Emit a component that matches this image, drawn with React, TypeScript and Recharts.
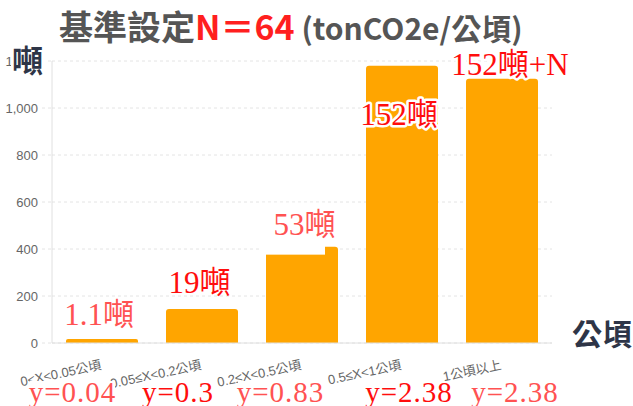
import React from 'react';
import { ComposedChart, Bar, Line, XAxis, YAxis, CartesianGrid, LabelList } from 'recharts';

const categories = ['0<X<0.05公頃', '0.05≤X<0.2公頃', '0.2≤X<0.5公頃', '0.5≤X<1公頃', '1公頃以上'];
const barValues = [17, 145, 410, 1180, 1125];
const barLabels = ['1.1噸', '19噸', '53噸', '152噸', '152噸+N'];
const yLabels = ['y=0.04', 'y=0.3', 'y=0.83', 'y=2.38', 'y=2.38'];
const yTicks = [0, 200, 400, 600, 800, 1000, 1200];

const data = categories.map((cat, i) => ({ cat, value: barValues[i], label: barLabels[i] }));

const RED = '#ff0d0d';
const PINK = '#ff5252';
const SERIF = "'Liberation Serif', 'Noto Sans CJK TC', serif";
const SANS = "'Liberation Sans', Arial, 'Noto Sans CJK TC', sans-serif";
const CJK = "'Noto Sans CJK TC', sans-serif";

const barLabelStyle = [
  { color: PINK, dx: -3, dy: -14, cover: false, glow: false },
  { color: RED, dx: -2.5, dy: -16, cover: false, glow: false },
  { color: PINK, dx: 2.5, dy: -12, cover: true, glow: false },
  { color: RED, dx: -3, dy: 59, cover: false, glow: true },
  { color: RED, dx: 8, dy: -4, cover: false, glow: true },
];

const yLabelStyle = [
  { color: PINK, dx: -29.5 },
  { color: RED, dx: -24 },
  { color: PINK, dx: -21.5 },
  { color: RED, dx: 7 },
  { color: PINK, dx: 13 },
];

const CatTick = (props: any) => {
  const { x, y, payload } = props;
  const ax = x;
  const ay = y + 26;
  return (
    <text x={ax} y={ay} transform={`rotate(-12, ${ax}, ${ay})`} textAnchor="end" fill="#666" fontSize={13} fontFamily={SANS}>
      {payload.value}
    </text>
  );
};

const YLabTick = (props: any) => {
  const { x, y, index } = props;
  const s = yLabelStyle[index];
  const txt = yLabels[index];
  const cx = x + s.dx;
  const by = y + 29;
  const w = txt.length * 14.5;
  return (
    <g>
      <rect x={cx - w / 2 + 1} y={by - 21} width={w - 2} height={30} fill="#fff" />
      <text x={cx} y={by} textAnchor="middle" fill={s.color} fontSize={29} fontFamily={SERIF} letterSpacing={1}>
        {txt}
      </text>
    </g>
  );
};

const renderBarLabel = (props: any) => {
  const vb = props.viewBox && props.viewBox.width !== undefined ? props.viewBox : props;
  const { x, y, width } = vb;
  const index = props.index;
  const s = barLabelStyle[index];
  const cx = x + width / 2 + s.dx;
  const by = y + s.dy;
  return (
    <g>
      {s.cover && <rect x={x - 4} y={by - 32} width={width - 9} height={y + 8 - (by - 32)} fill="#fff" />}
      <text
        x={cx}
        y={by}
        textAnchor="middle"
        fontSize={31}
        fontFamily={SERIF}
        fill={s.color}
        stroke={s.glow ? '#fff' : 'none'}
        strokeWidth={s.glow ? 5 : 0}
        strokeLinejoin="round"
        paintOrder="stroke"
      >
        {props.value}
      </text>
    </g>
  );
};

export default function App() {
  return (
    <div style={{ position: 'absolute', left: 0, top: 0, width: 633, height: 406, background: '#fff' }}>
      <ComposedChart width={633} height={406} data={data} margin={{ top: 61, right: 81, left: 0, bottom: 0 }} barCategoryGap="14%">
        <CartesianGrid vertical={false} stroke="#e4e4e4" strokeDasharray="3 3" />
        <XAxis
          xAxisId="main"
          dataKey="cat"
          interval={0}
          height={30}
          tickSize={0}
          tickMargin={0}
          tickLine={false}
          axisLine={{ stroke: '#e0e0e0' }}
          tick={<CatTick />}
        />
        <XAxis
          xAxisId="ylab"
          dataKey="cat"
          interval={0}
          height={33}
          tickSize={0}
          tickMargin={0}
          tickLine={false}
          axisLine={false}
          tick={<YLabTick />}
        />
        <YAxis
          width={52}
          domain={[0, 1200]}
          ticks={yTicks}
          interval={0}
          tickSize={10}
          tickMargin={4}
          tickLine={{ stroke: '#e4e4e4', strokeDasharray: '3 3' }}
          axisLine={{ stroke: '#e0e0e0' }}
          tick={{ fill: '#666', fontSize: 13, fontFamily: SANS }}
          tickFormatter={(v: number) => v.toLocaleString('en-US')}
        />
        <Bar xAxisId="main" dataKey="value" fill="#ffa500" radius={[3, 3, 0, 0]} isAnimationActive={false}>
          <LabelList dataKey="label" content={renderBarLabel} />
        </Bar>
        <Line xAxisId="ylab" dataKey="value" stroke="none" dot={false} activeDot={false} isAnimationActive={false} legendType="none" />
      </ComposedChart>
      <svg width={633} height={406} style={{ position: 'absolute', left: 0, top: 0, pointerEvents: 'none' }}>
        <text x={59} y={40} fontFamily={CJK} fontWeight={700}>
          <tspan fontSize={34} fill="#555">基準設定</tspan>
          <tspan fontSize={34} fill="#ff1f1f">N＝64</tspan>
          <tspan fontSize={30} fill="#555"> (tonCO2e/公頃)</tspan>
        </text>
        <rect x={11} y={43} width={34} height={36} fill="#fff" />
        <text x={12} y={72} fontFamily={CJK} fontWeight={700} fontSize={31} fill="#2e3547">噸</text>
        <text x={572} y={345} fontFamily={CJK} fontWeight={700} fontSize={30} fill="#2e3547">公頃</text>
      </svg>
    </div>
  );
}
